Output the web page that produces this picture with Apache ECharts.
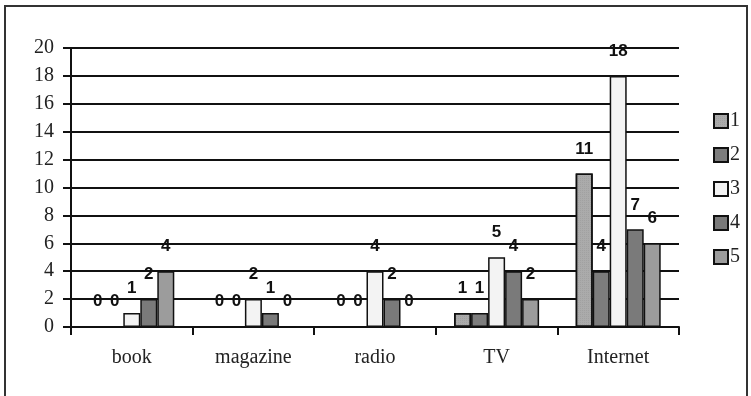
<!DOCTYPE html>
<html><head><meta charset="utf-8">
<script src="https://cdn.jsdelivr.net/npm/echarts@6/dist/echarts.min.js"></script>
<style>html,body{margin:0;padding:0;background:#fff}#c{width:751px;height:396px}</style>
</head><body><div id="c"></div>
<script>
const categories = ['book', 'magazine', 'radio', 'TV', 'Internet'];
const seriesNames = ['1', '2', '3', '4', '5'];
const s1 = [0, 0, 0, 1, 11];
const s2 = [0, 0, 0, 1, 4];
const s3 = [1, 2, 4, 5, 18];
const s4 = [2, 1, 2, 4, 7];
const s5 = [4, 0, 0, 2, 6];
const yTicks = [0, 2, 4, 6, 8, 10, 12, 14, 16, 18, 20];

const colors = ['#ababab', '#7d7d7d', '#f3f3f3', '#7a7a7a', '#9c9c9c'];
const data = [s1, s2, s3, s4, s5];
const chart = echarts.init(document.getElementById('c'), null, {renderer: 'canvas'});
chart.setOption({
  animation: false,
  backgroundColor: '#fff',
  graphic: [{type: 'rect', shape: {x: 5, y: 6, width: 742, height: 400}, style: {fill: 'none', stroke: '#333', lineWidth: 2}, silent: true}],
  grid: {left: 71, right: 72, top: 48, bottom: 69},
  legend: {
    orient: 'vertical', left: 708, top: 106, itemWidth: 14, itemHeight: 14, itemGap: 14,
    icon: 'rect',
    textStyle: {fontFamily: 'Liberation Serif', fontSize: 20, color: '#222', padding: [0, 0, 0, -3]},
    data: seriesNames
  },
  xAxis: {
    type: 'category', data: categories,
    axisLine: {lineStyle: {color: '#111', width: 2}},
    axisTick: {show: true, length: 8, lineStyle: {color: '#111', width: 2}},
    axisLabel: {fontFamily: 'Liberation Serif', fontSize: 20, color: '#222', margin: 21}
  },
  yAxis: {
    type: 'value', min: 0, max: 20, interval: 2,
    axisLine: {show: true, lineStyle: {color: '#111', width: 2}},
    axisTick: {show: true, length: 8, lineStyle: {color: '#111', width: 2}},
    axisLabel: {fontFamily: 'Liberation Serif', fontSize: 20, color: '#222', margin: 17,
      formatter: v => yTicks.includes(v) ? String(v) : ''},
    splitLine: {lineStyle: {color: '#111', width: 2}}
  },
  series: data.map((d, i) => {
    const itemStyle = {color: colors[i], borderColor: '#111', borderWidth: 1.5};
    if (i === 0) itemStyle.decal = {symbol: 'rect', symbolSize: 0.5, color: 'rgba(60,60,60,0.35)', dashArrayX: [1, 1], dashArrayY: [1, 1]};
    return {
      name: seriesNames[i], type: 'bar', data: d,
      barWidth: 17, barGap: '0%',
      itemStyle,
      label: {show: true, position: 'top', distance: 16,
        fontFamily: 'Liberation Sans', fontWeight: 'bold', fontSize: 17, color: '#111'}
    };
  })
});
</script></body></html>
